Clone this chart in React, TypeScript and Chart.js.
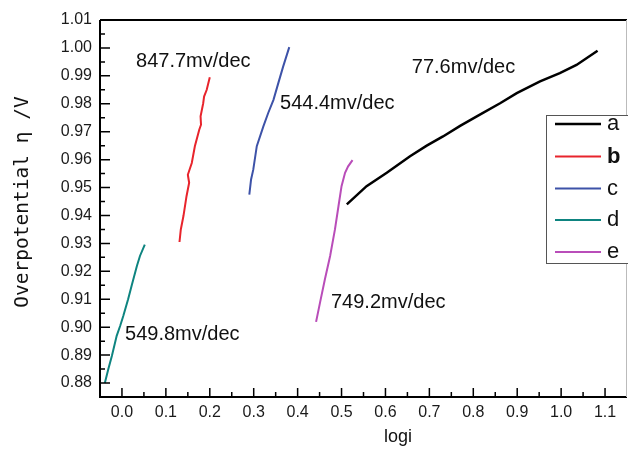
import React, { useEffect, useRef } from "react";
import { Chart, registerables } from "chart.js";

Chart.register(...registerables);

// ---- data ----
const X_TICKS = [0.0, 0.1, 0.2, 0.3, 0.4, 0.5, 0.6, 0.7, 0.8, 0.9, 1.0, 1.1];
const Y_TICKS = [0.88, 0.89, 0.9, 0.91, 0.92, 0.93, 0.94, 0.95, 0.96, 0.97, 0.98, 0.99, 1.0, 1.01];

const SERIES_LABELS = ["a", "b", "c", "d", "e"];

const aLogi = [0.512, 0.557, 0.603, 0.656, 0.694, 0.731, 0.77, 0.815, 0.861, 0.899, 0.952, 0.997, 1.035, 1.083];
const aEta = [0.944, 0.9505, 0.9553, 0.9612, 0.965, 0.9683, 0.9721, 0.9761, 0.9802, 0.9838, 0.988, 0.991, 0.9939, 0.999];

const bLogi = [0.131, 0.134, 0.14, 0.147, 0.153, 0.15, 0.159, 0.166, 0.176, 0.18, 0.179, 0.185, 0.187, 0.193, 0.2];
const bEta = [0.9305, 0.935, 0.9398, 0.9469, 0.9517, 0.9546, 0.9588, 0.9648, 0.9707, 0.9725, 0.9755, 0.9802, 0.9826, 0.985, 0.9895];

const cLogi = [0.29, 0.294, 0.299, 0.307, 0.322, 0.333, 0.345, 0.356, 0.367, 0.381];
const cEta = [0.9475, 0.9529, 0.9564, 0.9648, 0.9719, 0.9767, 0.9814, 0.9874, 0.9933, 1.0003];

const dLogi = [-0.039, -0.031, -0.023, -0.012, -0.004, 0.003, 0.014, 0.022, 0.034, 0.041, 0.052];
const dEta = [0.88, 0.885, 0.8897, 0.8969, 0.9005, 0.904, 0.91, 0.9148, 0.9219, 0.9255, 0.9296];

const eLogi = [0.442, 0.451, 0.462, 0.474, 0.485, 0.493, 0.5, 0.508, 0.515, 0.525];
const eEta = [0.9019, 0.9088, 0.9171, 0.9255, 0.935, 0.9433, 0.9505, 0.9553, 0.9576, 0.9598];

const SLOPE_TEXT = ["847.7mv/dec", "544.4mv/dec", "77.6mv/dec", "749.2mv/dec", "549.8mv/dec"];
const SLOPE_AT_LOGI = [0.032, 0.36, 0.66, 0.476, 0.007];
const SLOPE_AT_ETA = [0.995, 0.98, 0.9929, 0.909, 0.8975];

const COLORS = ["#000000", "#e8242c", "#3d52a8", "#0e8480", "#b94db9"];
const WIDTHS = [2.5, 2, 2, 2, 2];

const SANS = "'Liberation Sans', Arial, sans-serif";
const MONO = "'DejaVu Sans Mono', 'Liberation Mono', monospace";

function pts(xs: number[], ys: number[]) {
  return xs.map((x, i) => ({ x, y: ys[i] }));
}

const decorPlugin = {
  id: "decor",
  afterDraw(chart: any) {
    const ctx = chart.ctx as CanvasRenderingContext2D;
    const { left, right, top, bottom } = chart.chartArea;
    const xs = chart.scales.x;
    const ys = chart.scales.y;
    ctx.save();

    // frame
    ctx.strokeStyle = "#000";
    ctx.lineWidth = 2;
    ctx.beginPath();
    ctx.moveTo(left, top);
    ctx.lineTo(left, bottom);
    ctx.lineTo(right, bottom);
    ctx.stroke();
    ctx.beginPath();
    ctx.moveTo(left, top);
    ctx.lineTo(right, top);
    ctx.stroke();
    ctx.strokeStyle = "#bbb";
    ctx.lineWidth = 1;
    ctx.beginPath();
    ctx.moveTo(right - 0.5, top);
    ctx.lineTo(right - 0.5, bottom);
    ctx.stroke();

    // inward ticks
    ctx.strokeStyle = "#000";
    ctx.lineWidth = 1.5;
    ctx.beginPath();
    Y_TICKS.forEach((v, i) => {
      const py = ys.getPixelForValue(v);
      ctx.moveTo(left, py);
      ctx.lineTo(left + 10, py);
      if (i < Y_TICKS.length - 1) {
        const pm = ys.getPixelForValue((v + Y_TICKS[i + 1]) / 2);
        ctx.moveTo(left, pm);
        ctx.lineTo(left + 5, pm);
      }
    });
    X_TICKS.forEach((v, i) => {
      const px = xs.getPixelForValue(v);
      ctx.moveTo(px, bottom);
      ctx.lineTo(px, bottom - 9);
      if (i < X_TICKS.length - 1) {
        const pm = xs.getPixelForValue((v + X_TICKS[i + 1]) / 2);
        ctx.moveTo(pm, bottom);
        ctx.lineTo(pm, bottom - 5);
      }
    });
    ctx.stroke();

    // axis titles
    ctx.fillStyle = "#111";
    ctx.font = `18px ${SANS}`;
    ctx.textAlign = "center";
    ctx.textBaseline = "middle";
    ctx.fillText("logi", 398, 437);

    ctx.save();
    ctx.translate(23, 202);
    ctx.rotate(-Math.PI / 2);
    ctx.font = `19.5px ${MONO}`;
    ctx.fillText("Overpotential η /V", 0, 0);
    ctx.restore();

    // slope annotations
    ctx.font = `20px ${SANS}`;
    ctx.textAlign = "left";
    ctx.textBaseline = "middle";
    SLOPE_TEXT.forEach((t, i) => {
      ctx.fillText(t, xs.getPixelForValue(SLOPE_AT_LOGI[i]), ys.getPixelForValue(SLOPE_AT_ETA[i]));
    });

    // legend
    const lx = 546.5, ly = 115.5, lw = 90, lh = 148;
    ctx.fillStyle = "#fff";
    ctx.fillRect(lx, ly, lw, lh);
    ctx.strokeStyle = "#555";
    ctx.lineWidth = 1;
    ctx.strokeRect(lx, ly, lw, lh);
    const rowY = [124, 156.5, 188.5, 220, 252];
    chart.data.datasets.forEach((ds: any, i: number) => {
      const y = rowY[i];
      ctx.strokeStyle = ds.borderColor;
      ctx.lineWidth = ds.borderWidth;
      ctx.beginPath();
      ctx.moveTo(555, y);
      ctx.lineTo(601, y);
      ctx.stroke();
      ctx.fillStyle = "#111";
      ctx.font = `${i === 1 ? "bold " : ""}22px ${SANS}`;
      ctx.textBaseline = "middle";
      ctx.fillText(ds.label, 607, y);
    });

    ctx.restore();
  },
};

export default function App() {
  const ref = useRef<HTMLCanvasElement | null>(null);

  useEffect(() => {
    if (!ref.current) return;
    const series = [
      pts(aLogi, aEta),
      pts(bLogi, bEta),
      pts(cLogi, cEta),
      pts(dLogi, dEta),
      pts(eLogi, eEta),
    ];
    const chart = new Chart(ref.current, {
      type: "scatter",
      data: {
        datasets: series.map((d, i) => ({
          label: SERIES_LABELS[i],
          data: d,
          showLine: true,
          borderColor: COLORS[i],
          backgroundColor: COLORS[i],
          borderWidth: WIDTHS[i],
          pointRadius: 0,
          tension: 0,
        })),
      },
      options: {
        animation: false,
        responsive: false,
        devicePixelRatio: 1,
        layout: { padding: { left: 0, right: 1, top: 20, bottom: 0 } },
        plugins: { legend: { display: false }, tooltip: { enabled: false } },
        scales: {
          x: {
            type: "linear",
            min: -0.05,
            max: 1.15,
            grid: { display: false, drawTicks: false },
            border: { display: false },
            afterBuildTicks: (s: any) => {
              s.ticks = X_TICKS.map((v) => ({ value: v }));
            },
            afterFit: (s: any) => {
              s.height = 57;
            },
            ticks: {
              autoSkip: false,
              maxRotation: 0,
              padding: 6,
              color: "#1a1a1a",
              font: { family: SANS, size: 16 },
              callback: (v: any) => Number(v).toFixed(1),
            },
          },
          y: {
            type: "linear",
            min: 0.875,
            max: 1.01,
            grid: { display: false, drawTicks: false },
            border: { display: false },
            afterBuildTicks: (s: any) => {
              s.ticks = Y_TICKS.map((v) => ({ value: v }));
            },
            afterFit: (s: any) => {
              s.width = 100;
            },
            ticks: {
              autoSkip: false,
              padding: 8,
              color: "#1a1a1a",
              font: { family: SANS, size: 16 },
              callback: (v: any) => Number(v).toFixed(2),
            },
          },
        },
      },
      plugins: [decorPlugin],
    });
    return () => chart.destroy();
  }, []);

  return (
    <div style={{ position: "absolute", left: 0, top: 0, width: 628, height: 454, background: "#fff" }}>
      <canvas ref={ref} width={628} height={454} />
    </div>
  );
}
